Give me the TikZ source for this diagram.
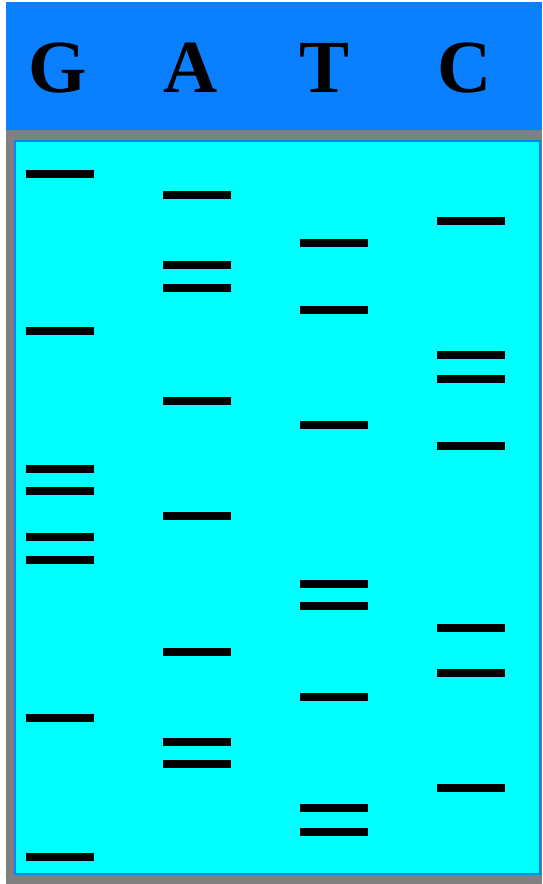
\documentclass[tikz,border=0pt]{standalone}
\usepackage{fontspec}
\setmainfont{Liberation Serif}
\definecolor{bandblue}{RGB}{10,128,255}
\definecolor{gelcyan}{RGB}{0,255,255}
\definecolor{framegray}{RGB}{128,128,128}
\begin{document}
\begin{tikzpicture}[x=1pt,y=-1pt,
  band/.style={line width=8pt},
  lanelabel/.style={anchor=base,inner sep=0pt,font=\fontsize{75}{75}\selectfont\bfseries}]
\useasboundingbox (0,0) rectangle (542,884);
\fill[white] (0,0) rectangle (542,884);
\fill[bandblue] (6,2) rectangle (542,130);
\fill[framegray] (6,130) rectangle (542,884);
\fill[gelcyan, draw=bandblue, line width=2pt] (15,141) rectangle (540,874);
\node[lanelabel] (lG) at (58,92) {G};
\node[lanelabel] (lA) at (191,92) {A};
\node[lanelabel] (lT) at (325,92) {T};
\node[lanelabel] (lC) at (465,92) {C};
\foreach \y in {174,331,469,491,537,560,718,857} \draw[band] (26,\y) -- (94,\y);
\foreach \y in {195,265,288,401,516,652,742,764} \draw[band] (163,\y) -- (231,\y);
\foreach \y in {243,310,425,584,606,697,808,832} \draw[band] (300,\y) -- (368,\y);
\foreach \y in {221,355,379,446,628,673,788} \draw[band] (437,\y) -- (505,\y);
\end{tikzpicture}
\end{document}
